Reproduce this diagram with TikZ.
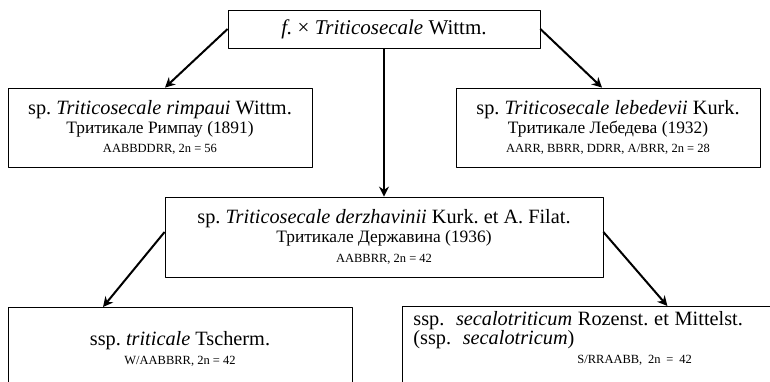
\documentclass[tikz,border=0pt]{standalone}
\usepackage{fontspec}
\setmainfont{Liberation Serif}
\usetikzlibrary{arrows.meta}
\newcommand{\cyrsz}{\fontsize{17.4}{19}\selectfont}
\newcommand{\latsz}{\fontsize{20.3}{19}\selectfont}
\newcommand{\topsz}{\fontsize{21}{22}\selectfont}
\newcommand{\smallsz}{\fontsize{12.5}{15}\selectfont}
\frenchspacing
\begin{document}
\begin{tikzpicture}[x=1pt,y=-1pt,>={Stealth[length=10pt,width=10pt]},line join=round,
		box/.style={draw,line width=0.8pt,align=center,font=\cyrsz\frenchspacing,inner sep=0pt},
		link/.style={->,line width=2pt}]
		\clip (0,0) rectangle (770,381);
		\node[box,minimum width=312pt,minimum height=38pt] (gen) at (384,29) {\topsz\textit{f.} × \textit{Triticosecale} Wittm.};
		\node[box,minimum width=304pt,minimum height=79pt] (rimp) at (160,127.5) {{\latsz sp. \textit{Triticosecale rimpaui} Wittm.}\\ Тритикале Римпау (1891)\\ {\smallsz AABBDDRR, 2n = 56}};
		\node[box,minimum width=304pt,minimum height=79pt] (lebed) at (608,127.5) {{\latsz sp. \textit{Triticosecale lebedevii} Kurk.}\\ Тритикале Лебедева (1932)\\ {\smallsz AARR, BBRR, DDRR, A/BRR, 2n = 28}};
		\node[box,minimum width=438pt,minimum height=80pt] (derzh) at (384,237) {{\latsz sp. \textit{Triticosecale derzhavinii} Kurk. et A. Filat.}\\ Тритикале Державина (1936)\\[1pt] {\smallsz AABBRR, 2n = 42}};
		\node[box,anchor=north,minimum width=344pt,inner ysep=24pt,text depth=60pt] (tri) at (180,307) {{\latsz ssp. \textit{triticale} Tscherm.}\\ {\smallsz W/AABBRR, 2n = 42}};
		\node[box,anchor=north west,align=left,text width=356pt,inner xsep=11pt,inner ysep=5pt,text depth=60pt] (secal) at (402,306) {{\latsz ssp.\ \ \textit{secalotriticum} Rozenst. et Mittelst.}\\ {\latsz (ssp.\ \ \textit{secalotricum})}\\ \hspace*{164pt}\mbox{\smallsz S/RRAABB, 2n = 42}};
		\draw[link] (gen.west)--([xshift=5pt]rimp.north);
		\draw[link] (gen.east)--([xshift=-6pt]lebed.north);
		\draw[link] (gen.south)--(derzh.north);
		\draw[link] ([yshift=5pt]derzh.west)--([xshift=-77pt]tri.north);
		\draw[link] ([yshift=5pt]derzh.east)--([xshift=76pt]secal.north);
\end{tikzpicture}
\end{document}
